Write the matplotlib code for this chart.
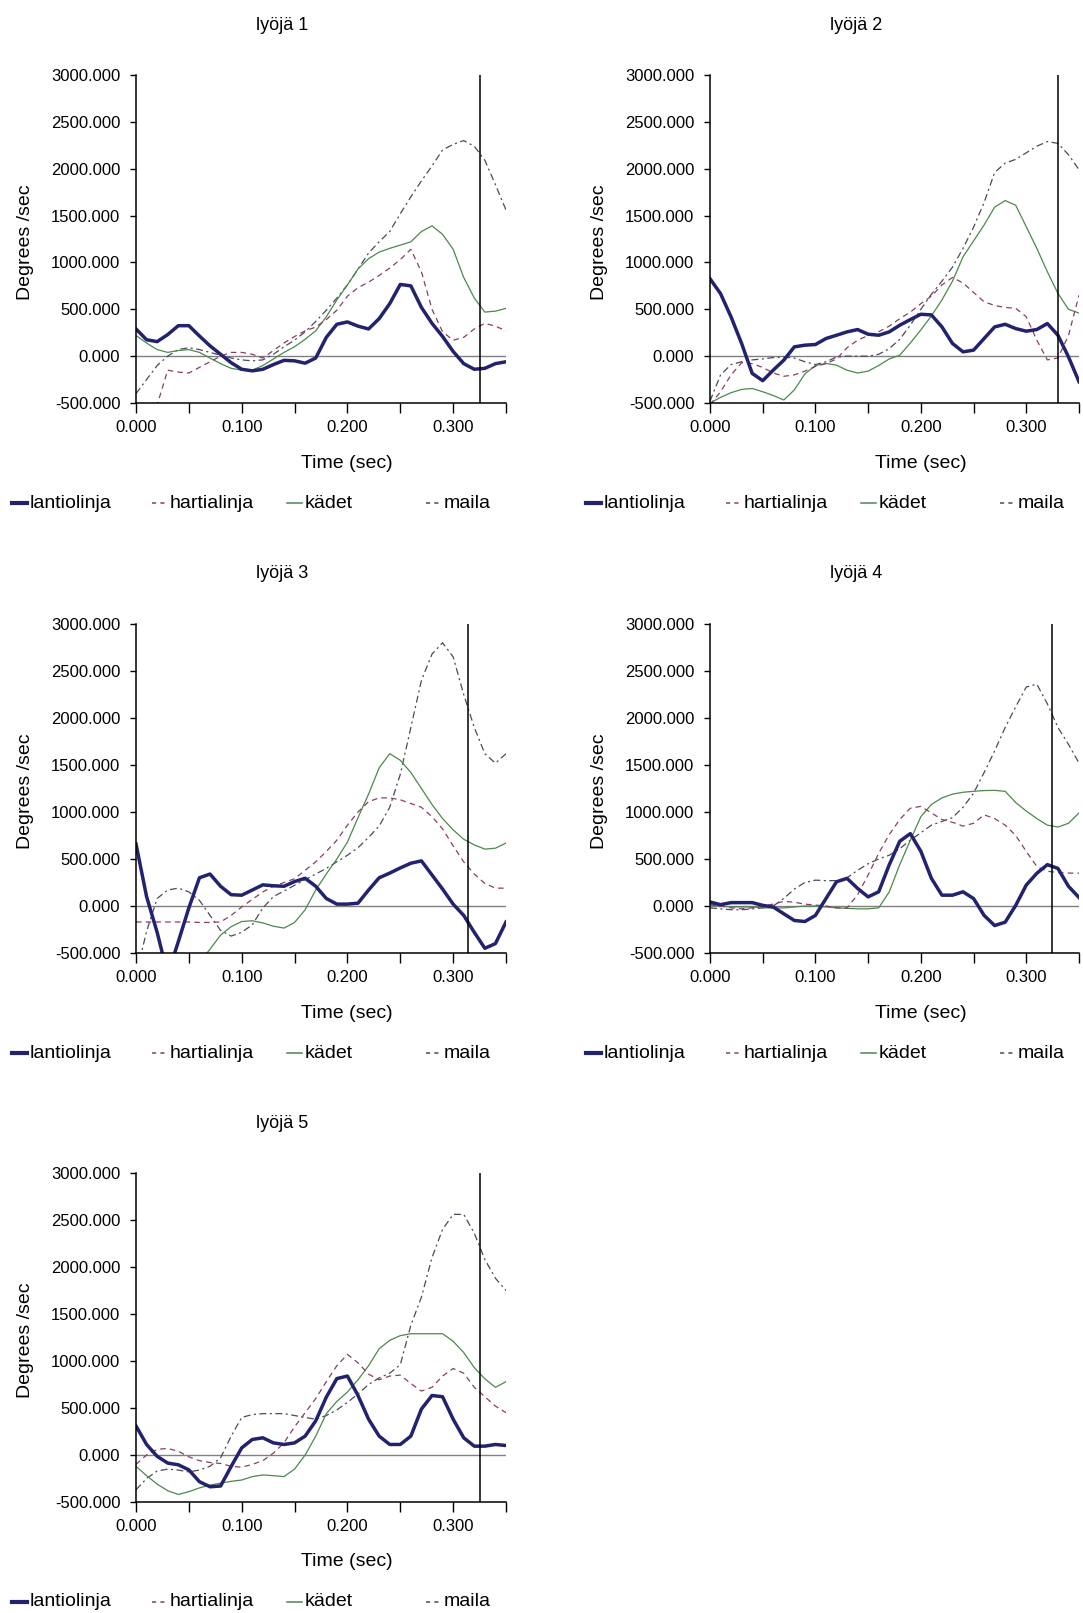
import numpy as np
import matplotlib.pyplot as plt
from matplotlib.lines import Line2D

plt.rcParams['font.family'] = ['Liberation Sans', 'DejaVu Sans']
plt.rcParams['lines.scale_dashes'] = False

W, H = 1083, 1613

# sample times (sec), one reading every 10 ms
time = np.round(np.arange(36) * 0.01, 2)

titles = ['lyöjä 1', 'lyöjä 2', 'lyöjä 3', 'lyöjä 4', 'lyöjä 5']
series_names = ['lantiolinja', 'hartialinja', 'kädet', 'maila']
impact_time = [0.325, 0.330, 0.314, 0.324, 0.325]

# angular velocities, degrees / sec
lantio_1 = [290, 175, 155, 230, 325, 325, 215, 110, 20, -70, -140, -157, -140, -90, -45, -50, -75, -20,
            200, 340, 365, 320, 290, 400, 560, 765, 750, 520, 350, 210, 50, -80, -140, -130, -80, -60]
hartia_1 = [-900, -700, -520, -150, -170, -180, -120, -60, 0, 40, 40, 20, -20, 60, 140, 210, 270, 310,
            390, 490, 640, 730, 790, 860, 940, 1030, 1140, 900, 500, 260, 170, 200, 290, 350, 320, 270]
kadet_1 = [220, 140, 70, 40, 60, 70, 40, -20, -80, -130, -150, -150, -100, -30, 40, 100, 180, 270,
           420, 600, 760, 930, 1040, 1110, 1150, 1185, 1220, 1330, 1390, 1300, 1140, 840, 620, 470, 480, 510]
maila_1 = [-400, -250, -100, 0, 70, 90, 70, 40, 10, -20, -40, -50, -40, 20, 100, 170, 260, 370,
           490, 620, 760, 930, 1100, 1220, 1330, 1520, 1700, 1870, 2030, 2200, 2260, 2300, 2240, 2090, 1830, 1560]

lantio_2 = [826, 667, 418, 135, -184, -262, -149, -43, 99, 117, 124, 188, 223, 259, 284, 234, 223, 259,
            330, 390, 447, 440, 312, 135, 46, 64, 188, 312, 340, 294, 266, 284, 348, 223, -7, -273]
hartia_2 = [-520, -380, -200, -70, -80, -120, -180, -215, -200, -160, -110, -80, -30, 90, 170, 220, 260, 320,
            400, 470, 560, 640, 760, 840, 780, 680, 580, 540, 520, 510, 420, 170, -40, -20, 220, 650]
kadet_2 = [-500, -440, -390, -355, -345, -380, -420, -468, -360, -190, -100, -78, -96, -150, -180, -160, -100, -30,
           10, 140, 280, 430, 600, 800, 1060, 1230, 1400, 1590, 1660, 1610, 1380, 1150, 900, 670, 500, 460]
maila_2 = [-480, -200, -90, -60, -40, -30, -15, -10, -20, -60, -90, -60, -10, 0, 0, 0, 20, 80,
           180, 330, 500, 660, 800, 950, 1150, 1376, 1640, 1960, 2060, 2100, 2170, 2240, 2290, 2270, 2150, 1990]

lantio_3 = [660, 100, -280, -730, -380, -20, 300, 340, 210, 120, 115, 170, 225, 215, 210, 260, 295, 210,
            80, 20, 20, 30, 170, 300, 350, 405, 455, 480, 330, 180, 20, -100, -280, -450, -400, -170]
hartia_3 = [-170, -170, -170, -170, -170, -170, -175, -175, -170, -100, -10, 70, 150, 210, 250, 290, 380, 470,
            580, 700, 860, 1000, 1110, 1150, 1150, 1130, 1090, 1050, 950, 820, 640, 470, 340, 240, 190, 190]
kadet_3 = [-1000, -950, -900, -850, -800, -720, -600, -460, -310, -220, -165, -157, -180, -215, -235, -175, -40, 170,
           340, 500, 680, 940, 1190, 1470, 1620, 1550, 1420, 1250, 1080, 930, 810, 710, 650, 605, 615, 670]
maila_3 = [-740, -270, 80, 170, 190, 150, 60, -100, -260, -320, -280, -200, -20, 100, 160, 220, 280, 340,
           400, 470, 540, 620, 730, 850, 1050, 1400, 1900, 2400, 2680, 2800, 2650, 2250, 1900, 1620, 1520, 1620]

lantio_4 = [43, 14, 36, 36, 36, 7, -11, -83, -154, -165, -100, 79, 258, 294, 187, 97, 151, 438,
            689, 770, 582, 294, 115, 115, 151, 79, -100, -208, -172, 7, 223, 348, 440, 400, 210, 90]
hartia_4 = [10, 0, -20, -30, -20, 0, 20, 50, 40, 20, 10, 0, -20, -20, 120, 330, 560, 760,
            920, 1040, 1060, 990, 920, 890, 850, 880, 970, 930, 860, 750, 580, 420, 370, 355, 350, 350]
kadet_4 = [20, 0, -10, -10, -10, -20, -20, -20, -10, 0, 0, -10, -20, -25, -30, -30, -20, 150,
           440, 700, 950, 1080, 1150, 1190, 1210, 1220, 1228, 1230, 1220, 1100, 1010, 930, 860, 840, 880, 990]
maila_4 = [-20, -30, -40, -40, -30, -20, 0, 80, 180, 250, 275, 270, 270, 300, 380, 450, 500, 540,
           610, 700, 780, 860, 900, 940, 1050, 1200, 1420, 1650, 1900, 2120, 2330, 2360, 2150, 1900, 1720, 1520]

lantio_5 = [309, 112, -14, -86, -104, -158, -284, -338, -330, -122, 76, 165, 183, 129, 112, 129, 201, 363,
            615, 813, 840, 633, 381, 201, 112, 112, 201, 489, 633, 620, 381, 183, 94, 94, 112, 101]
hartia_5 = [-100, 0, 60, 70, 40, -20, -60, -80, -90, -120, -130, -100, -60, 20, 130, 300, 450, 600,
            780, 950, 1070, 980, 860, 800, 840, 850, 760, 680, 720, 840, 920, 870, 720, 620, 520, 450]
kadet_5 = [-120, -220, -310, -380, -420, -390, -350, -320, -300, -280, -266, -230, -212, -220, -230, -150, 0, 200,
           440, 570, 670, 800, 950, 1130, 1220, 1270, 1290, 1290, 1290, 1290, 1210, 1090, 930, 810, 720, 780]
maila_5 = [-370, -250, -170, -150, -160, -180, -160, -120, -30, 200, 400, 430, 440, 440, 440, 420, 400, 380,
           420, 480, 560, 650, 750, 820, 870, 960, 1380, 1680, 2100, 2400, 2560, 2560, 2360, 2080, 1880, 1750]

batters = [
    [lantio_1, hartia_1, kadet_1, maila_1],
    [lantio_2, hartia_2, kadet_2, maila_2],
    [lantio_3, hartia_3, kadet_3, maila_3],
    [lantio_4, hartia_4, kadet_4, maila_4],
    [lantio_5, hartia_5, kadet_5, maila_5],
]

styles = {
    'lantiolinja': dict(color='#22226e', lw=2.5, ls='-'),
    'hartialinja': dict(color='#8c3c64', lw=0.9, ls=(0, (4, 3))),
    'kädet': dict(color='#4d884d', lw=0.9, ls='-'),
    'maila': dict(color='#4a4a5e', lw=0.9, ls=(0, (5, 2.5, 1.5, 2.5))),
}

# plot areas in pixels: left, top, right, bottom
boxes = [(136, 75, 506, 403), (710, 75, 1079, 403),
         (136, 624, 506, 953), (710, 624, 1079, 953),
         (136, 1173, 506, 1502)]


def fx(px):
    return px / W


def fy(py):
    return 1 - py / H


fig = plt.figure(figsize=(W / 100, H / 100), dpi=100)
fig.patch.set_facecolor('white')

yticks = np.arange(-500, 3001, 500)
xticks = np.round(np.arange(0, 0.351, 0.05), 2)

for k, (left, top, right, bottom) in enumerate(boxes):
    ax = fig.add_axes([fx(left), fy(bottom), (right - left) / W, (bottom - top) / H])
    ax.set_xlim(0, 0.35)
    ax.set_ylim(-500, 3000)

    ax.axhline(0, color='#808080', lw=1.0, zorder=1)
    # draw the pelvis line last so it sits on top
    for name, values in reversed(list(zip(series_names, batters[k]))):
        st = styles[name]
        ax.plot(time, values, color=st['color'], lw=st['lw'], ls=st['ls'], zorder=2)
    ax.axvline(impact_time[k], color='black', lw=1.1, zorder=3)

    for side in ['top', 'right']:
        ax.spines[side].set_visible(False)
    for side in ['left', 'bottom']:
        ax.spines[side].set_linewidth(1.1)
        ax.spines[side].set_color('black')

    ax.set_yticks(yticks)
    ax.set_yticklabels([f'{v:.3f}' for v in yticks])
    ax.set_xticks(xticks)
    ax.set_xticklabels([f'{v:.3f}' if round(v * 20) % 2 == 0 else '' for v in xticks])
    ax.tick_params(axis='y', direction='out', length=4.3, width=1, labelsize=12, pad=7)
    ax.tick_params(axis='x', direction='out', length=7.2, width=1, labelsize=12, pad=5)

    # title, axis titles and legend, placed like the spreadsheet layout
    fig.text(fx(left + 146), fy(top - 50), titles[k], ha='center', va='center', fontsize=13)
    fig.text(fx(left - 110), fy((top + bottom) / 2 + 3), 'Degrees /sec', rotation=90,
             ha='center', va='center', fontsize=14)
    fig.text(fx(left + 211), fy(bottom + 60), 'Time (sec)', ha='center', va='center', fontsize=14)

    ly = bottom + 100
    for name, off in zip(series_names, [-124, 16, 151, 290]):
        st = styles[name]
        x0 = left + off
        hl = (0, (3, 3)) if name in ('hartialinja', 'maila') else '-'
        fig.add_artist(Line2D([fx(x0), fx(x0 + 15)], [fy(ly), fy(ly)], transform=fig.transFigure,
                              color=st['color'], lw=st['lw'] + (0.5 if name == 'lantiolinja' else 0.2),
                              ls=hl))
        fig.text(fx(x0 + 18), fy(ly), name, ha='left', va='center', fontsize=14)

fig.savefig('out.png', dpi=100, facecolor='white')
